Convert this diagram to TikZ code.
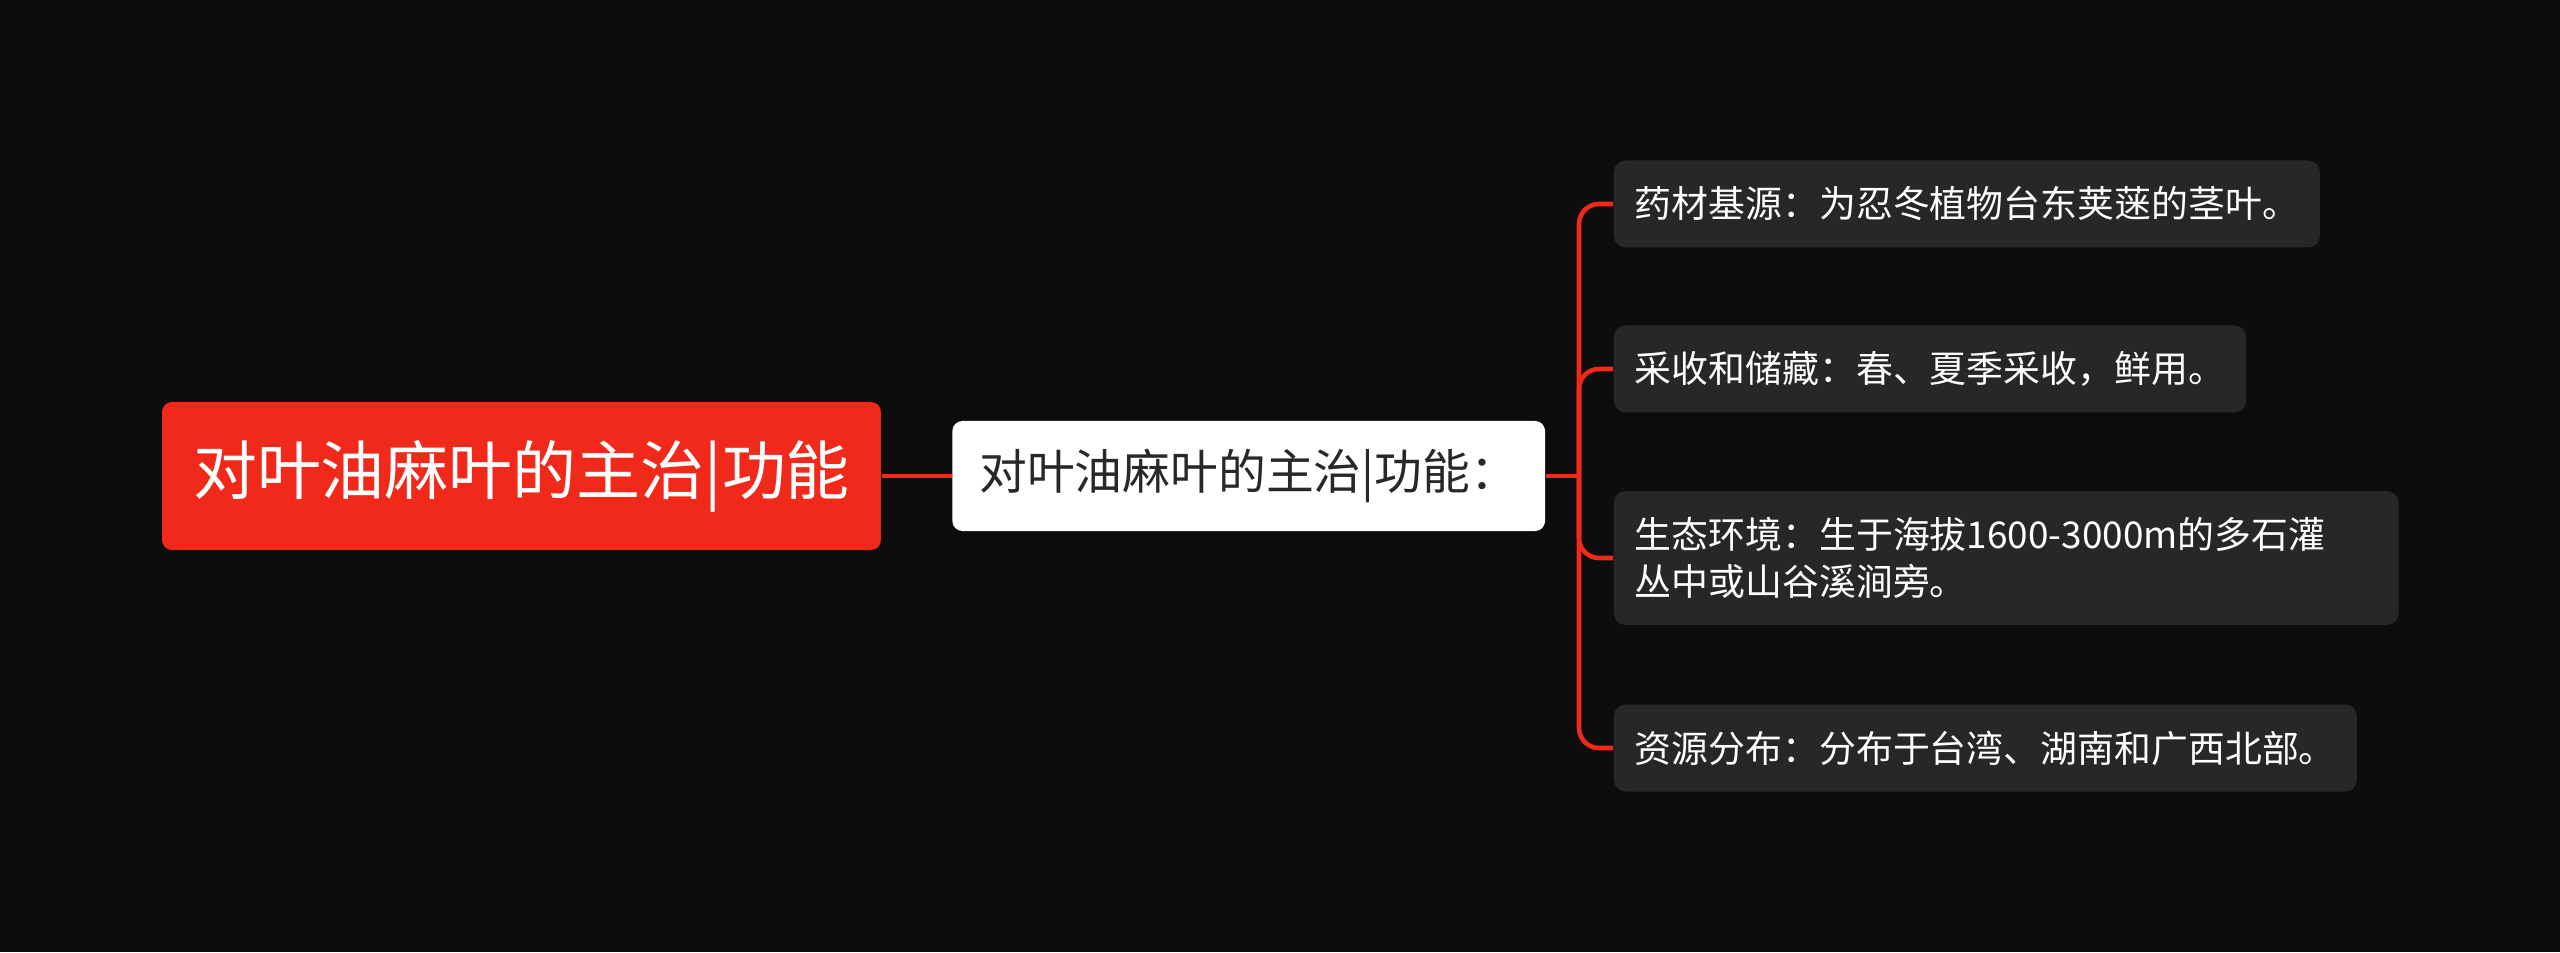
\documentclass[tikz,border=0pt]{standalone}
\usepackage{fontspec}
\setmainfont{Noto Sans CJK SC}
\usetikzlibrary{positioning}

\definecolor{bgdark}{RGB}{13,13,13}
\definecolor{mapred}{RGB}{240,41,26}
\definecolor{leafgray}{RGB}{39,39,39}
\definecolor{subtext}{RGB}{40,40,40}

\begin{document}
\begin{tikzpicture}[
  node distance=0.7cm,
  rootbox/.style={rectangle, fill=mapred, text=white, rounded corners=0.1cm, inner xsep=0.31cm, minimum height=1.48cm, font=\fontsize{18.2pt}{22pt}\selectfont},
  subbox/.style={rectangle, fill=white, text=subtext, rounded corners=0.1cm, inner xsep=0.27cm, minimum height=1.1cm, font=\fontsize{13.6pt}{16pt}\selectfont},
  leafbox/.style={rectangle, fill=leafgray, text=white, rounded corners=0.12cm, inner xsep=0.21cm, inner ysep=0.2cm, minimum height=0.87cm, align=left, anchor=west, font=\fontsize{10.5pt}{13.4pt}\selectfont},
  link/.style={draw=mapred, line width=1.3pt}
]
\fill[bgdark] (0,0) rectangle (25.6,9.52);
\useasboundingbox (0,0) rectangle (25.6,9.52);

\node[rootbox] (root) at (5.215,4.76) {对叶油麻叶的主治|功能};
\node[subbox, right=of root] (sub) {对叶油麻叶的主治|功能：};
\coordinate (hub) at (15.79,4.76);

\node[leafbox] (source) at (16.13,7.48) {药材基源：为忍冬植物台东荚蒾的茎叶。};
\node[leafbox] (harvest) at (16.13,5.83) {采收和储藏：春、夏季采收，鲜用。};
\node[leafbox, text width=7.43cm, minimum height=1.34cm] (habitat) at (16.13,3.94) {生态环境：生于海拔1600-3000m的多石灌\\丛中或山谷溪涧旁。};
\node[leafbox] (spread) at (16.13,2.04) {资源分布：分布于台湾、湖南和广西北部。};

\draw[link] (root) -- (sub);
\draw[link] (sub.east) -- (hub);
\draw[link, rounded corners=0.2cm] (hub) |- (source.west);
\draw[link, rounded corners=0.2cm] (hub) |- (harvest.west);
\draw[link, rounded corners=0.2cm] (hub) |- (habitat.west);
\draw[link, rounded corners=0.2cm] (hub) |- (spread.west);
\end{tikzpicture}
\end{document}
